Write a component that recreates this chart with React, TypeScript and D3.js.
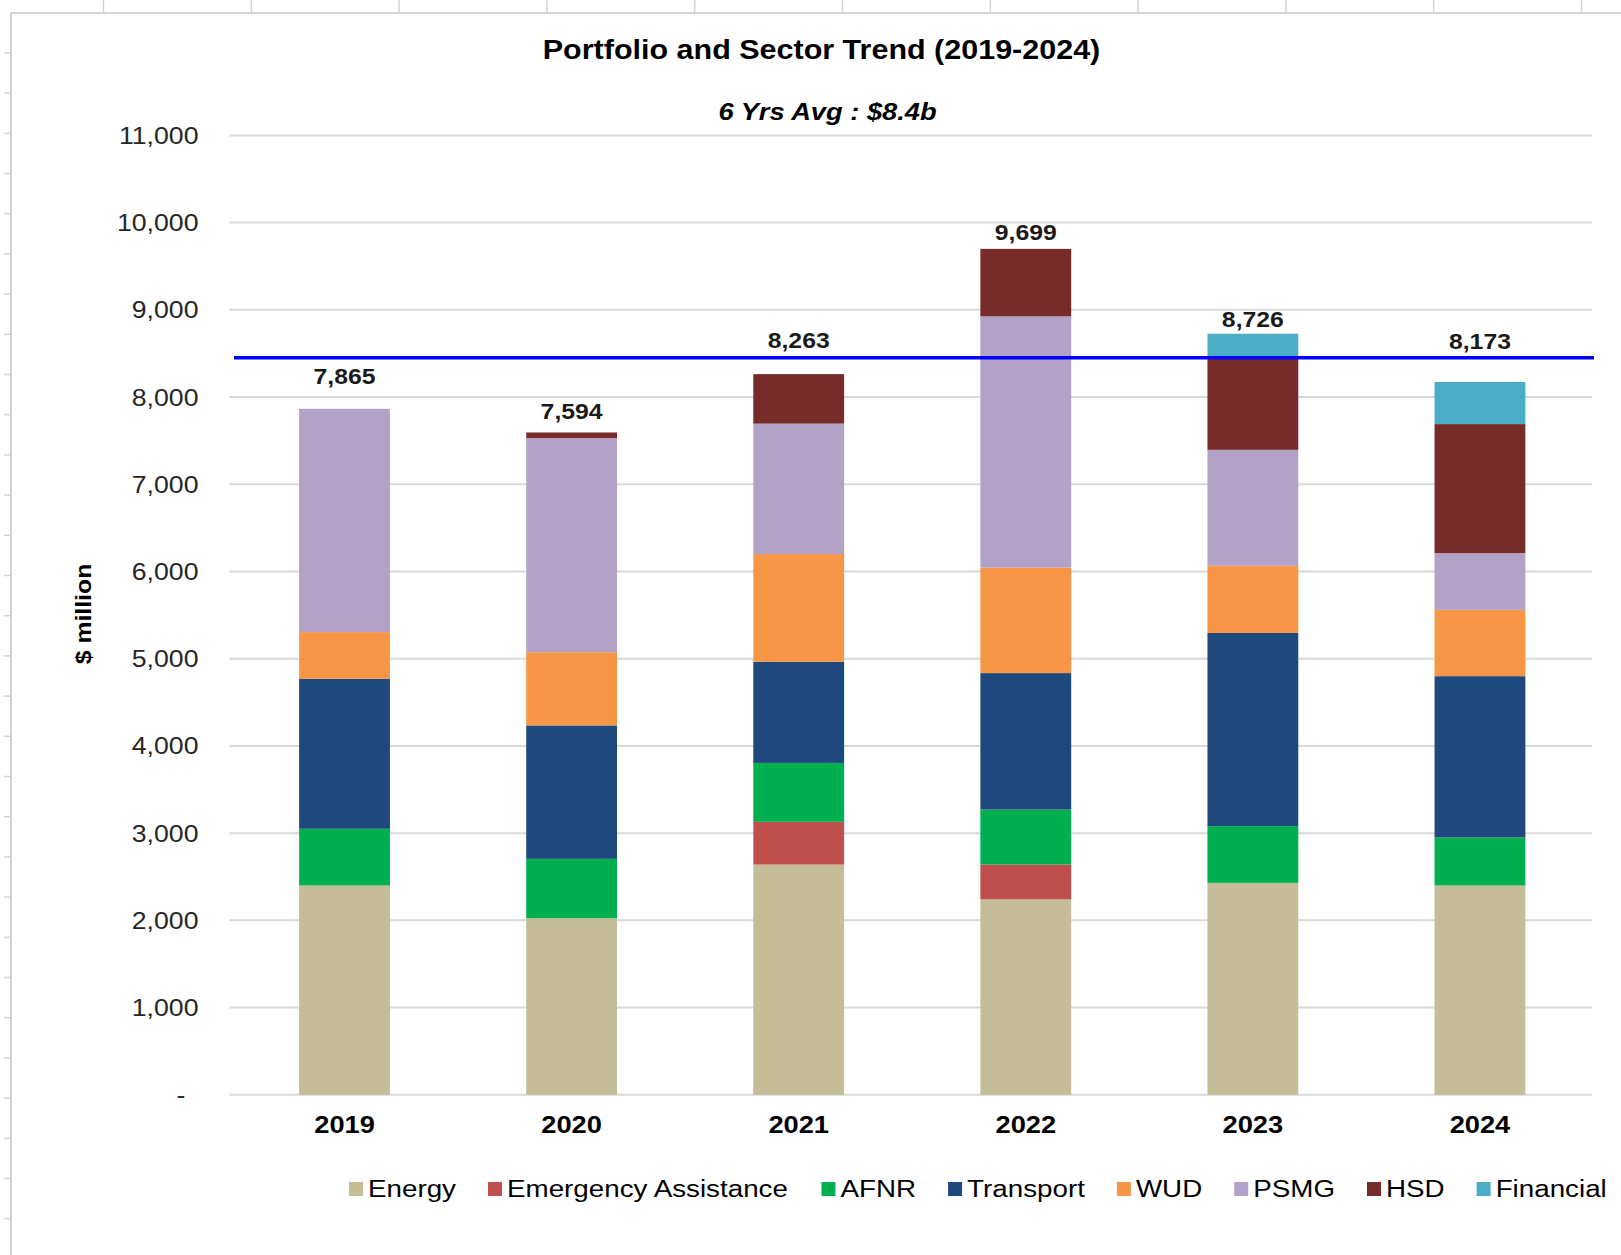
import React from "react";
import * as d3 from "d3";

const years = ["2019", "2020", "2021", "2022", "2023", "2024"];
const sectors = ["Energy", "Emergency Assistance", "AFNR", "Transport", "WUD", "PSMG", "HSD", "Financial"];
const sectorColors = ["#C4BD97", "#C0504D", "#00B050", "#1F497D", "#F79646", "#B3A2C7", "#772C2A", "#4BACC6"];

const energy = [2400, 2025, 2640, 2240, 2430, 2400];
const emergency = [0, 0, 490, 400, 0, 0];
const afnr = [650, 680, 675, 630, 650, 550];
const transport = [1720, 1530, 1160, 1565, 2215, 1850];
const wud = [535, 840, 1235, 1210, 770, 760];
const psmg = [2560, 2455, 1495, 2880, 1330, 650];
const hsd = [0, 64, 568, 774, 1061, 1480];
const financial = [0, 0, 0, 0, 270, 483];

// value (in $ million) at which each total label sits
const labelAt = [8235, 7833, 8654, 9884, 8890, 8642];
const avgLine = 8450;

const yTicks = [0, 1000, 2000, 3000, 4000, 5000, 6000, 7000, 8000, 9000, 10000, 11000];
const yTickLabels = ["-", "1,000", "2,000", "3,000", "4,000", "5,000", "6,000", "7,000", "8,000", "9,000", "10,000", "11,000"];

const title = "Portfolio and Sector Trend (2019-2024)";
const subtitle = "6 Yrs Avg : $8.4b";
const yTitle = "$ million";

const W = 1621;
const H = 1255;
const SX = 1.12;
const K = 1.24 / SX;
const FONT = "'Liberation Sans', Arial, sans-serif";

let _ctx: CanvasRenderingContext2D | null = null;
function measure(text: string, font: string): number {
  if (!_ctx) {
    const c = document.createElement("canvas");
    _ctx = c.getContext("2d");
  }
  if (!_ctx) return text.length * 10;
  _ctx.font = font;
  return _ctx.measureText(text).width;
}

function T(props: {
  x: number; y: number; size: number; weight?: string; italic?: boolean;
  anchor?: string; fill?: string; rotate?: number; children: React.ReactNode;
}) {
  const { x, y, size, weight = "normal", italic = false, anchor = "middle", fill = "#000", rotate, children } = props;
  const tr = `translate(${x},${y})${rotate ? ` rotate(${rotate})` : ""} scale(${SX},1)`;
  return (
    <g transform={tr}>
      <text x={0} y={0} fontSize={size * K} fontWeight={weight} fontStyle={italic ? "italic" : "normal"}
        textAnchor={anchor as any} dominantBaseline="central" fill={fill} fontFamily={FONT}>
        {children}
      </text>
    </g>
  );
}

export default function App() {
  const series = [energy, emergency, afnr, transport, wud, psmg, hsd, financial];
  const rows = years.map((yr, i) => {
    const r: any = { year: yr };
    sectors.forEach((s, k) => (r[s] = series[k][i]));
    return r;
  });
  const stacked = d3.stack().keys(sectors)(rows);
  const totals = years.map((_, i) => d3.sum(series, (s) => s[i]));

  const plotLeft = 229.5, plotRight = 1592;
  const x = d3.scaleBand().domain(years).range([plotLeft + 1.5, plotRight + 1.5]).paddingInner(0.6).paddingOuter(0.3);
  const y = d3.scaleLinear().domain([0, 11000]).range([1094.8, 135.4]);

  // spreadsheet decoration
  const colLines = d3.range(11).map((k) => 103.5 + 147.8 * k);
  const rowTicks = d3.range(-3, 27).map((k) => 173.5 + 40.2 * k);

  // legend layout
  const legendFontSize = 22.4;
  let lx = 349;
  const legendItems = sectors.map((s, i) => {
    const w = measure(s, `${legendFontSize * K}px ${FONT}`) * SX;
    const item = { s, color: sectorColors[i], x: lx };
    lx = lx + 14 + 5 + w + 32;
    return item;
  });
  const legendY = 1189;

  return (
    <svg width={W} height={H} style={{ position: "absolute", left: 0, top: 0, background: "#fff" }}>
      <rect x={0} y={0} width={W} height={H} fill="#fff" />
      {/* spreadsheet grid remnants */}
      <line x1={10} x2={W} y1={13} y2={13} stroke="#D4D4D4" strokeWidth={2} />
      {colLines.map((cx, i) => (
        <line key={"c" + i} x1={cx} x2={cx} y1={0} y2={12} stroke="#D4D4D4" strokeWidth={1.5} />
      ))}
      <line x1={11} x2={11} y1={13} y2={H} stroke="#D4D4D4" strokeWidth={2} />
      {rowTicks.map((ry, i) => (
        <line key={"r" + i} x1={4} x2={10} y1={ry} y2={ry} stroke="#D4D4D4" strokeWidth={1.5} />
      ))}

      {/* gridlines */}
      {yTicks.map((t) => (
        <line key={"g" + t} x1={plotLeft} x2={plotRight} y1={y(t)} y2={y(t)} stroke="#D9D9D9" strokeWidth={2} />
      ))}

      {/* bars */}
      {stacked.map((layer, k) => (
        <g key={layer.key} fill={sectorColors[k]}>
          {layer.map((d, i) => {
            const h = y(d[0]) - y(d[1]);
            if (h <= 0) return null;
            return <rect key={i} x={x(years[i])} y={y(d[1])} width={x.bandwidth()} height={h} />;
          })}
        </g>
      ))}

      {/* average line */}
      <line x1={234} x2={1594} y1={y(avgLine)} y2={y(avgLine)} stroke="#0000FF" strokeWidth={3.5} />

      {/* total labels */}
      {years.map((yr, i) => (
        <T key={"l" + yr} x={(x(yr) as number) + x.bandwidth() / 2} y={y(labelAt[i])} size={20} weight="bold" fill="#1a1a1a">
          {d3.format(",")(totals[i])}
        </T>
      ))}

      {/* y tick labels */}
      {yTicks.map((t, i) =>
        yTickLabels[i] === "-" ? (
          <T key={"yl" + t} x={181} y={y(t)} size={21.5} anchor="middle" fill="#262626">{yTickLabels[i]}</T>
        ) : (
          <T key={"yl" + t} x={198.5} y={y(t)} size={21.5} anchor="end" fill="#262626">{yTickLabels[i]}</T>
        )
      )}

      {/* x labels */}
      {years.map((yr) => (
        <T key={"xl" + yr} x={(x(yr) as number) + x.bandwidth() / 2} y={1125} size={22} weight="bold" fill="#000">{yr}</T>
      ))}

      {/* titles */}
      <T x={821.5} y={50} size={24.6} weight="bold">{title}</T>
      <T x={827.5} y={111.5} size={22} weight="bold" italic>{subtitle}</T>
      <T x={83.5} y={614} size={20} weight="bold" rotate={-90}>{yTitle}</T>

      {/* legend */}
      {legendItems.map((it) => (
        <g key={"lg" + it.s}>
          <rect x={it.x} y={legendY - 7} width={14} height={14} fill={it.color} />
          <T x={it.x + 19} y={legendY} size={legendFontSize} anchor="start" fill="#000">{it.s}</T>
        </g>
      ))}
    </svg>
  );
}
